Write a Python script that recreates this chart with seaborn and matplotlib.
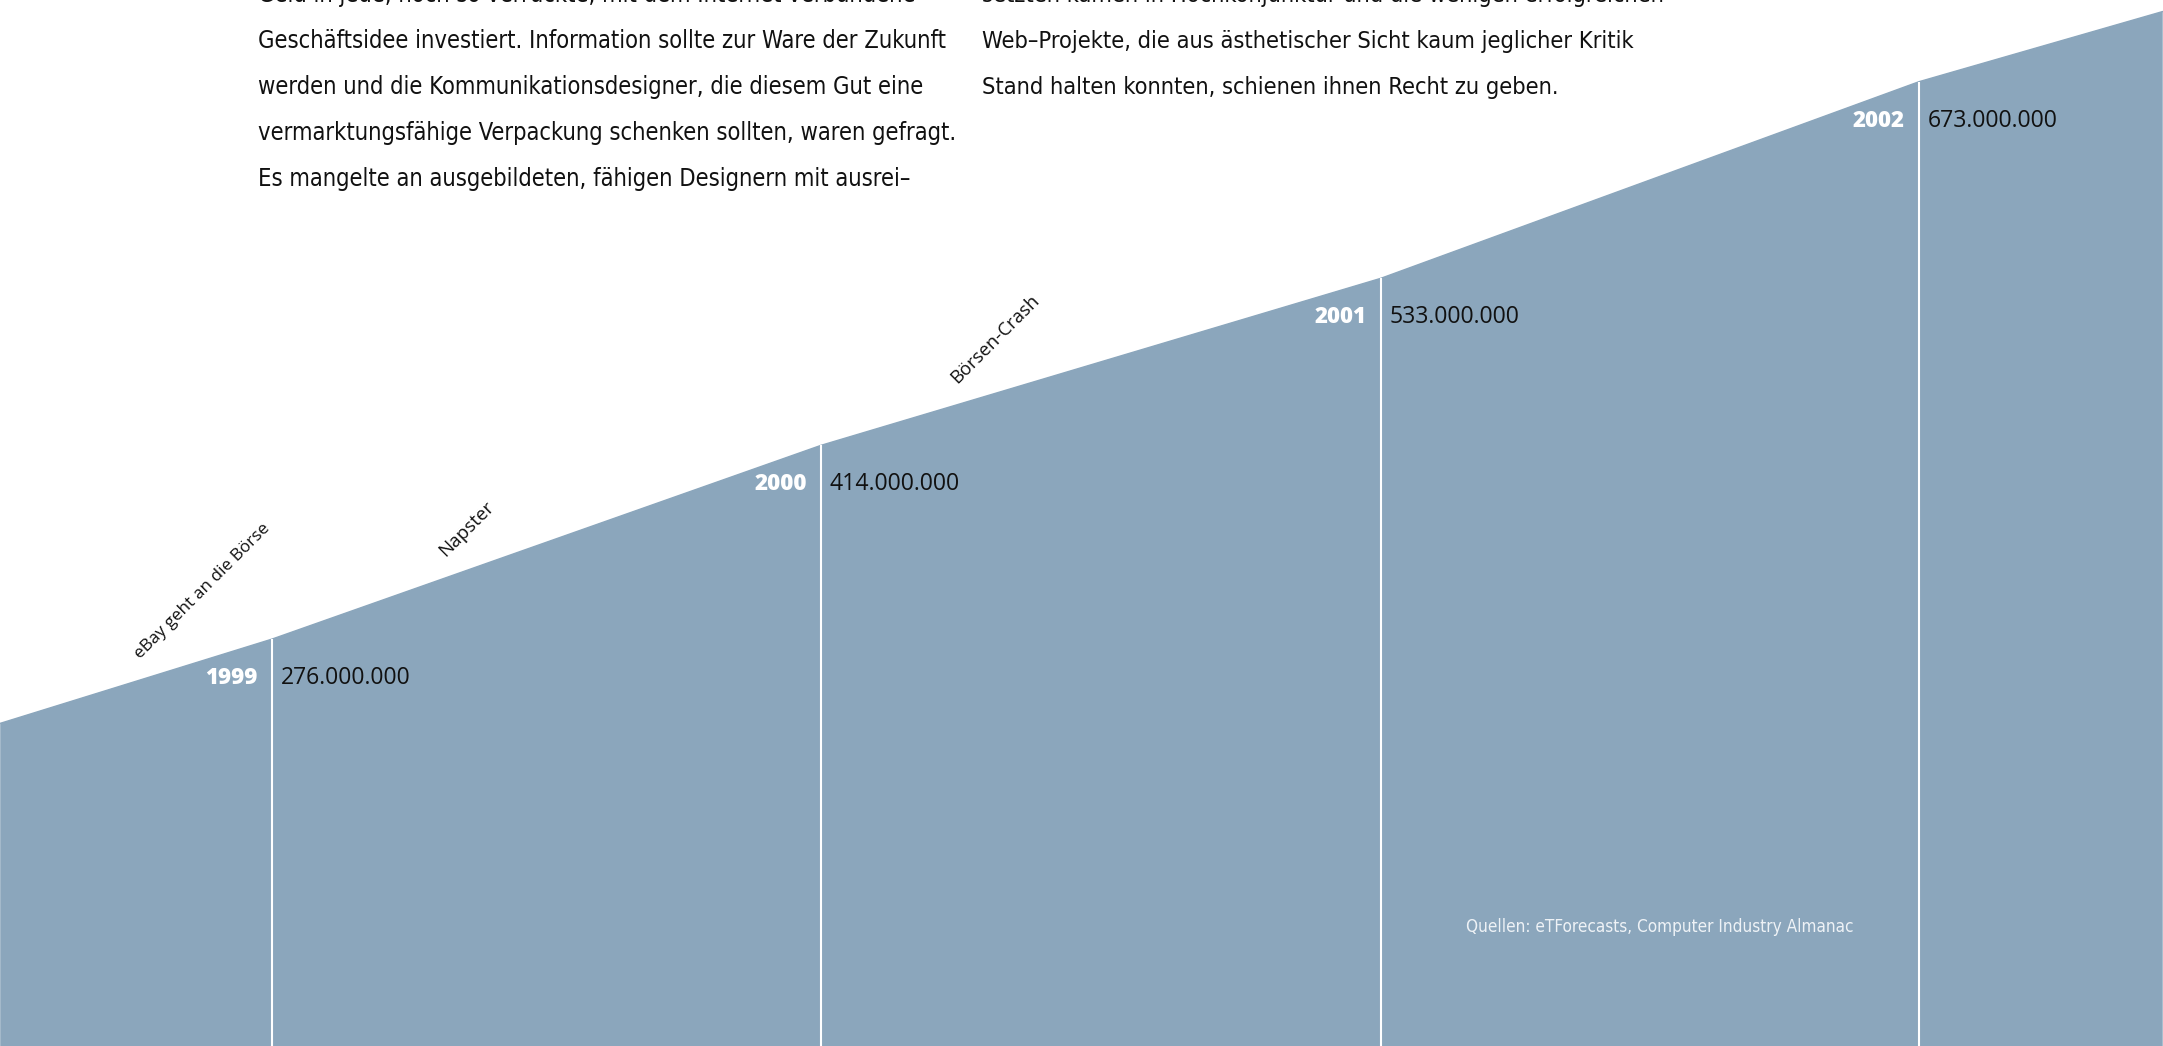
import numpy as np
import pandas as pd
import matplotlib
matplotlib.use("Agg")
import matplotlib.pyplot as plt
from matplotlib import font_manager
from matplotlib.transforms import IdentityTransform
import seaborn as sns

# ---------------- data ----------------
years = ["1999", "2000", "2001", "2002"]
year_pos = [1999.0, 2000.0, 2001.02, 2002.0]          # position on the time axis
users = [276, 414, 533, 673]                          # internet users, millions
value_labels = ["276.000.000", "414.000.000", "533.000.000", "673.000.000"]
edge_pos = [1998.505, 2002.444]                       # chart edges on the time axis
edge_users = [216, 723]                               # curve height at the edges
events = ["eBay geht an die Börse", "Napster", "Börsen-Crash"]
event_pos = [1998.76, 1999.315, 2000.248]
source = "Quellen: eTForecasts, Computer Industry Almanac"
body_col1 = [
    "Geld in jede, noch so verrückte, mit dem Internet verbundene",
    "Geschäftsidee investiert. Information sollte zur Ware der Zukunft",
    "werden und die Kommunikationsdesigner, die diesem Gut eine",
    "vermarktungsfähige Verpackung schenken sollten, waren gefragt.",
    "Es mangelte an ausgebildeten, fähigen Designern mit ausrei–",
]
body_col2 = [
    "setzten kamen in Hochkonjunktur und die wenigen erfolgreichen",
    "Web–Projekte, die aus ästhetischer Sicht kaum jeglicher Kritik",
    "Stand halten konnten, schienen ihnen Recht zu geben.",
]

# ---------------- style ----------------
W, H = 2163, 1046
AREA = "#8ba6bc"
sns.set_theme(style="white")
names = {f.name for f in font_manager.fontManager.ttflist}
plt.rcParams["font.family"] = ["Open Sans", "DejaVu Sans"]
if "Liberation Sans Narrow" in names:
    body_kw = dict(family=["Liberation Sans Narrow", "DejaVu Sans"])
else:
    body_kw = dict(family=["DejaVu Sans"], stretch="condensed")

fig = plt.figure(figsize=(W / 100, H / 100), dpi=100)
ax = fig.add_axes([0, 0, 1, 1])
ax.axis("off")

xs = [edge_pos[0]] + year_pos + [edge_pos[1]]
ys = [edge_users[0]] + users + [edge_users[1]]
df = pd.DataFrame({"t": xs, "users": ys})

ax.fill_between(df["t"], df["users"], -100, color=AREA, lw=0, zorder=1)
sns.lineplot(data=df, x="t", y="users", ax=ax, color=AREA, lw=1, zorder=2)
ax.vlines(year_pos, -100, users, color="white", lw=1.5, zorder=3)
ax.set_xlim(1998.5046, 2002.4445)
ax.set_ylim(-13.8, 731.2)
ax.set_xlabel("")
ax.set_ylabel("")

fig.canvas.draw()
R = fig.canvas.get_renderer()


def fit(t, width):
    rot = t.get_rotation()
    t.set_rotation(0)
    bb = t.get_window_extent(renderer=R)
    t.set_fontsize(t.get_fontsize() * width / bb.width)
    t.set_rotation(rot)


for yr, p, v, lab in zip(years, year_pos, users, value_labels):
    t1 = ax.annotate(yr, (p, v), xytext=(-14, -39), textcoords="offset pixels",
                     ha="right", va="center", color="white", fontweight=800,
                     fontsize=14, zorder=4)
    fit(t1, 52)
    t2 = ax.annotate(lab, (p, v), xytext=(9, -39), textcoords="offset pixels",
                     ha="left", va="center", color="#111111", fontsize=14, zorder=4)
    fit(t2, 131)

ev_y = np.interp(event_pos, xs, ys)
ev_w = [185, 70, 117]
for ev, p, yv, w in zip(events, event_pos, ev_y, ev_w):
    t = ax.annotate(ev, (p, yv), xytext=(0, 21), textcoords="offset pixels",
                    ha="left", va="baseline", rotation=45, rotation_mode="anchor",
                    color="#111111", fontsize=11, zorder=4)
    fit(t, w)

# body text (pixel coordinates)
line_h = 46
top = 2
col1 = []
for i, s in enumerate(body_col1):
    col1.append(fig.text(258, H - (top + i * line_h), s, transform=IdentityTransform(),
                         ha="left", va="baseline", color="#111111", fontsize=15, **body_kw))
fs1 = col1[0].get_fontsize()
bb = col1[1].get_window_extent(renderer=R)
for t in col1:
    t.set_fontsize(fs1 * 691 / bb.width)
col2 = []
for i, s in enumerate(body_col2):
    col2.append(fig.text(982, H - (top + i * line_h), s, transform=IdentityTransform(),
                         ha="left", va="baseline", color="#111111", fontsize=15, **body_kw))
bb = col2[1].get_window_extent(renderer=R)
for t in col2:
    t.set_fontsize(fs1 * 655 / bb.width)

ts = fig.text(1466, H - 927, source, transform=IdentityTransform(), ha="left",
              va="center", color="#eef2f6", fontsize=12, **body_kw)
fit(ts, 388)

fig.savefig("out.png", dpi=100)
